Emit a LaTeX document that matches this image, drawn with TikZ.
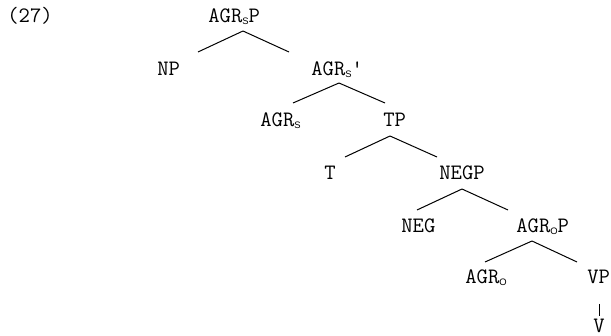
\documentclass[tikz,border=0pt]{standalone}
\usepackage{fontspec}
\newfontfamily\subfont{Liberation Sans}
\newcommand{\catsub}[1]{\raisebox{-0.8pt}{\subfont\fontsize{4.7}{5}\selectfont #1}}
\begin{document}
\begin{tikzpicture}[
        x=0.5pt, y=-0.5pt,
        cat/.style={anchor=base west, inner sep=0pt, font=\ttfamily\fontsize{11}{13}\selectfont},
        branch/.style={draw, line width=0.5pt, black}
    ]
	\useasboundingbox (0,0) rectangle (611,336);
	\node[cat] (ex) at (7,23) {(27)};
	\node[cat] (agrsp) at (208,23) {AGR\catsub{S}P};
	\node[cat] (np) at (157,76) {NP};
	\node[cat] (agrsbar) at (311,76) {AGR\catsub{S}'};
	\node[cat] (agrs) at (260,127) {AGR\catsub{S}};
	\node[cat] (tp) at (383,127) {TP};
	\node[cat] (t) at (324,180) {T};
	\node[cat] (negp) at (439,180) {NEGP};
	\node[cat] (neg) at (401,233) {NEG};
	\node[cat] (agrop) at (516,233) {AGR\catsub{O}P};
	\node[cat] (agro) at (465,284) {AGR\catsub{O}};
	\node[cat] (vp) at (587,284) {VP};
	\node[cat] (v) at (593,333) {V};

	% branch ends
	\coordinate (agrsp_b) at (243,31);
	\coordinate (np_t) at (198,52);
	\coordinate (agrsbar_t) at (289,52);
	\coordinate (agrsbar_b) at (339,83);
	\coordinate (agrs_t) at (293,103);
	\coordinate (tp_t) at (385,103);
	\coordinate (tp_b) at (390,136);
	\coordinate (t_t) at (345,157);
	\coordinate (negp_t) at (437,157);
	\coordinate (negp_b) at (462,189);
	\coordinate (neg_t) at (417,210);
	\coordinate (agrop_t) at (508,210);
	\coordinate (agrop_b) at (532,241);
	\coordinate (agro_t) at (485,262);
	\coordinate (vp_t) at (577,262);
	\coordinate (vp_b) at (599,304);
	\coordinate (v_t) at (599,316);

	\draw[branch] (agrsp_b) -- (np_t);
	\draw[branch] (agrsp_b) -- (agrsbar_t);
	\draw[branch] (agrsbar_b) -- (agrs_t);
	\draw[branch] (agrsbar_b) -- (tp_t);
	\draw[branch] (tp_b) -- (t_t);
	\draw[branch] (tp_b) -- (negp_t);
	\draw[branch] (negp_b) -- (neg_t);
	\draw[branch] (negp_b) -- (agrop_t);
	\draw[branch] (agrop_b) -- (agro_t);
	\draw[branch] (agrop_b) -- (vp_t);
	\draw[branch] (vp_b) -- (v_t);
\end{tikzpicture}
\end{document}
